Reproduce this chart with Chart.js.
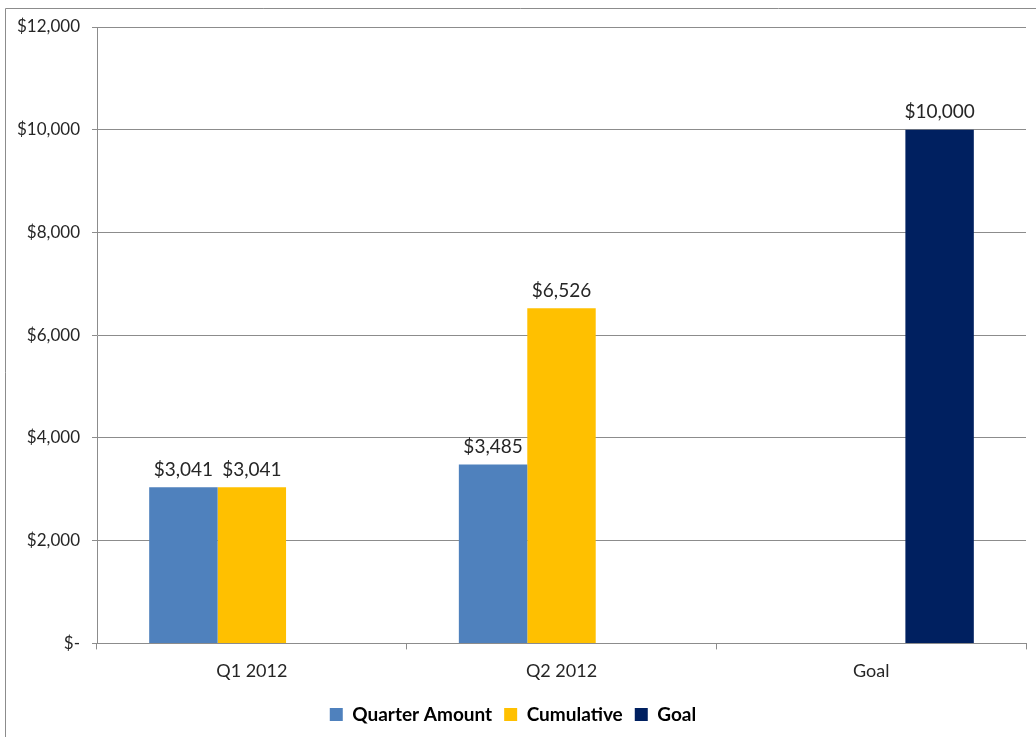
<!DOCTYPE html>
<html>
<head>
<meta charset="utf-8">
<script src="https://cdn.jsdelivr.net/npm/chart.js@4"></script>
<style>
  html, body { margin: 0; padding: 0; background: #fff; }
  #wrap { width: 1036px; height: 737px; position: relative; }
</style>
</head>
<body>
<div id="wrap"><canvas id="bars"></canvas></div>
<script>
// values
const categories = ['Q1 2012', 'Q2 2012', 'Goal'];
const quarterAmount = [3041, 3485, null];
const cumulative = [3041, 6526, null];
const goal = [null, null, 10000];
const yTicks = [0, 2000, 4000, 6000, 8000, 10000, 12000];

const fmt = v => v === 0 ? '$-' : '$' + v.toLocaleString('en-US');
const font = 'Lato, "Noto Sans", sans-serif';

// outer frame + value labels above bars
const extras = {
  id: 'extras',
  beforeDraw(chart) {
    const ctx = chart.ctx;
    ctx.save();
    ctx.strokeStyle = '#8c8c8c';
    ctx.lineWidth = 1;
    ctx.beginPath();
    ctx.moveTo(5.5, 737);
    ctx.lineTo(5.5, 8.5);
    ctx.lineTo(1036, 8.5);
    ctx.stroke();
    ctx.restore();
  },
  afterDatasetsDraw(chart) {
    const ctx = chart.ctx;
    ctx.save();
    ctx.font = '19px ' + font;
    ctx.fillStyle = '#262626';
    ctx.textAlign = 'center';
    ctx.textBaseline = 'bottom';
    chart.data.datasets.forEach((ds, i) => {
      chart.getDatasetMeta(i).data.forEach((bar, j) => {
        const v = ds.data[j];
        if (v == null) return;
        ctx.fillText(fmt(v), bar.x, bar.y - 8);
      });
    });
    ctx.restore();
  }
};

const barConfig = {
  type: 'bar',
  data: {
    labels: categories,
    datasets: [
      { label: 'Quarter Amount', data: quarterAmount, backgroundColor: '#4F81BD' },
      { label: 'Cumulative', data: cumulative, backgroundColor: '#FFC000' },
      { label: 'Goal', data: goal, backgroundColor: '#002060' },
    ],
  },
  options: {
    responsive: true,
    maintainAspectRatio: false,
    animation: false,
    layout: { padding: { top: 27, right: 10, bottom: 3, left: 0 } },
    datasets: { bar: { barPercentage: 1, categoryPercentage: 0.663 } },
    scales: {
      x: {
        offset: true,
        grid: { display: true, drawOnChartArea: false, offset: true, color: '#8c8c8c', tickLength: 6 },
        border: { display: false },
        ticks: { color: '#262626', font: { family: font, size: 18 }, padding: 11 },
      },
      y: {
        min: 0,
        max: 12000,
        afterBuildTicks: s => { s.ticks = yTicks.map(v => ({ value: v })); },
        afterFit: s => { s.width = 97; },
        grid: { color: '#8c8c8c', tickLength: 5 },
        border: { color: '#8c8c8c' },
        ticks: { color: '#262626', font: { family: font, size: 17 }, padding: 12, callback: v => fmt(v) },
      },
    },
    plugins: {
      legend: {
        position: 'bottom',
        labels: {
          boxWidth: 13, boxHeight: 13, padding: 12,
          color: '#000',
          font: { family: font, size: 19, weight: 'bold' },
        },
      },
      tooltip: { enabled: false },
    },
  },
  plugins: [extras],
};

const barCtx = document.getElementById('bars');
window.myBars = new Chart(barCtx, barConfig);
</script>
</body>
</html>
